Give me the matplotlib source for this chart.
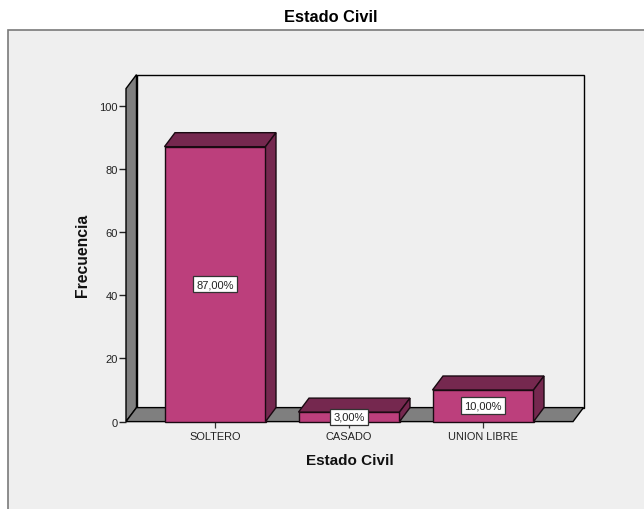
import matplotlib
matplotlib.use("Agg")
import matplotlib.pyplot as plt
from matplotlib.patches import Polygon, Rectangle

categories = ["SOLTERO", "CASADO", "UNION LIBRE"]
values = [87, 3, 10]
labels = ["87,00%", "3,00%", "10,00%"]
yticks = [0, 20, 40, 60, 80, 100]

W, H = 644, 510
BG = "#EFEFEF"
FACE = "#BC3F7C"
DARK = "#75284F"
WALL = "#7F7F7F"
EDGE = "#1A0A12"

plt.rcParams["font.family"] = ["Liberation Sans", "DejaVu Sans"]
fig = plt.figure(figsize=(W / 100, H / 100), dpi=100, facecolor="white")
fig.add_artist(Rectangle((8.0 / W, -0.02), 1.0, (510 - 30.5) / H + 0.02, transform=fig.transFigure,
                         facecolor=BG, edgecolor="#7A7A7A", lw=1.2, zorder=-5))

left, right, bottom, top = 126, 573, 422.6, 89.6
ax = fig.add_axes([left / W, (H - bottom) / H, (right - left) / W, (bottom - top) / H])
ax.patch.set_visible(False)
xpx, ypx = 134.0, 3.16
ax.set_xlim((left - 215) / xpx, (right - 215) / xpx)
ax.set_ylim(0, (bottom - top) / ypx)
x0, x1 = ax.get_xlim()
y1 = ax.get_ylim()[1]
dx, dy = 10.5 / xpx, 14 / ypx
bw = 101 / xpx

def poly(pts, fc, z, ec="black", lw=1.0):
    ax.add_patch(Polygon(pts, closed=True, facecolor=fc, edgecolor=ec, lw=lw, zorder=z,
                         clip_on=False, joinstyle="miter"))

poly([(x0 + dx, dy), (x1 + dx, dy), (x1 + dx, y1 + dy), (x0 + dx, y1 + dy)], BG, 1)
poly([(x0, 0), (x0 + dx, dy), (x0 + dx, y1 + dy), (x0, y1)], WALL, 2)
poly([(x0, 0), (x1, 0), (x1 + dx, dy), (x0 + dx, dy)], WALL, 2)

for i, v in enumerate(values):
    l, r = i - bw / 2, i + bw / 2
    z = 3 + i
    poly([(l, 0), (r, 0), (r, v), (l, v)], FACE, z, EDGE)
    poly([(l, v), (r, v), (r + dx, v + dy), (l + dx, v + dy)], DARK, z, EDGE)
    poly([(r, 0), (r + dx, dy), (r + dx, v + dy), (r, v)], DARK, z, EDGE)

for i, (v, t) in enumerate(zip(values, labels)):
    ax.text(i, v / 2, t, ha="center", va="center", fontsize=8, color="#222222", zorder=10,
            bbox=dict(boxstyle="square,pad=0.3", facecolor="white", edgecolor="#333333", lw=0.9))

for s in ax.spines.values():
    s.set_visible(False)
ax.set_xticks(range(len(categories)), categories)
ax.set_yticks(yticks)
ax.tick_params(axis="x", length=4.5, width=0.9, color="#333333", labelsize=7.9, pad=2.0, labelcolor="#222222")
ax.tick_params(axis="y", length=5, width=1.0, color="#222222", labelsize=8, pad=1, labelcolor="#222222")

fig.text(330.5 / W, (H - 17.5) / H, "Estado Civil", ha="center", va="center", fontsize=11.8, fontweight="bold", color="black")
fig.text(349.5 / W, (H - 461) / H, "Estado Civil", ha="center", va="center", fontsize=11, fontweight="bold", color="#111111")
fig.text(82 / W, (H - 255) / H, "Frecuencia", ha="center", va="center", rotation=90, fontsize=11.3, fontweight="bold", color="#111111")

fig.savefig("out.png", dpi=100, facecolor="white")
